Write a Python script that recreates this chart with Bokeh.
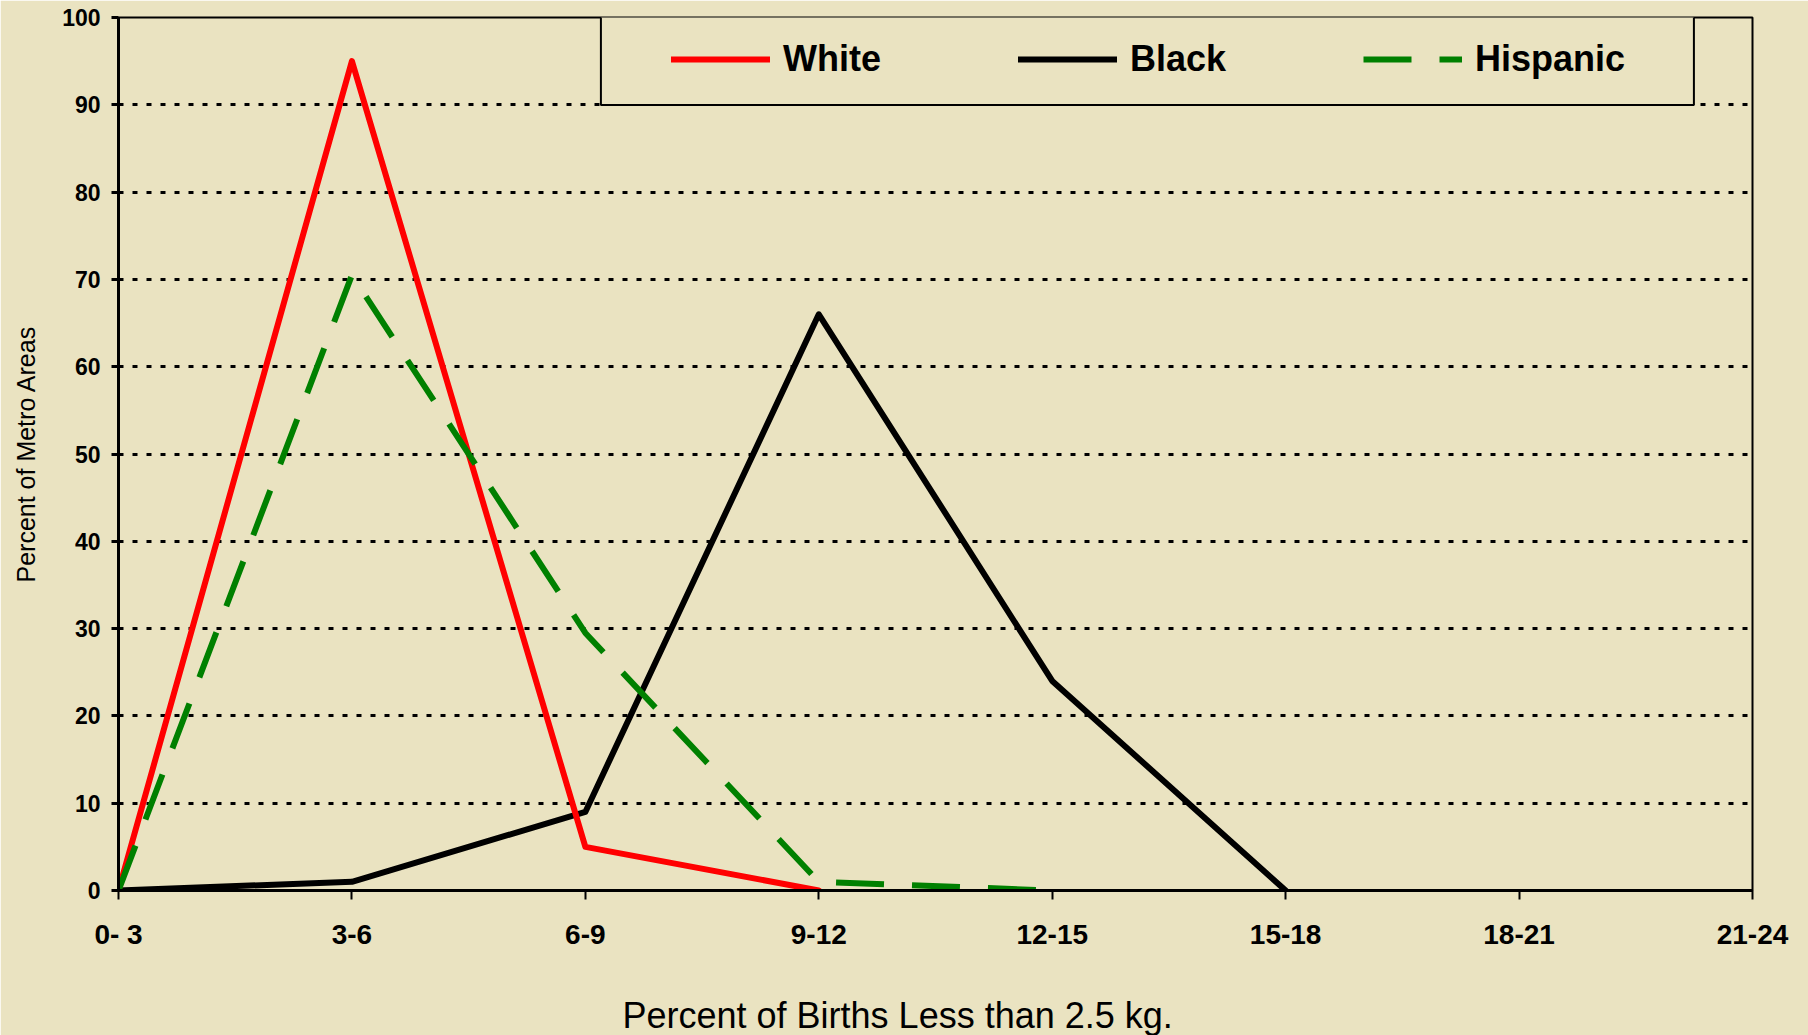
from bokeh.plotting import figure
from bokeh.models import Range1d, FixedTicker, BoxAnnotation, Legend, LegendItem, Title
from bokeh.embed import file_html
from bokeh.resources import INLINE

# ---- data ----
categories = ["0- 3", "3-6", "6-9", "9-12", "12-15", "15-18", "18-21", "21-24"]
white = [0, 95, 5, 0]
black = [0, 1, 9, 66, 24, 0]
hispanic = [0, 70.5, 29.5, 1, 0]
y_ticks = [0, 10, 20, 30, 40, 50, 60, 70, 80, 90, 100]
x_title = "Percent of Births Less than 2.5 kg."
y_title = "Percent of Metro Areas"

BG = "#EAE3C1"
FONT = "Liberation Sans"

p = figure(width=1808, height=1035, output_backend="svg", toolbar_location=None,
           x_range=Range1d(0, len(categories) - 1), y_range=Range1d(0, 100),
           min_border_left=118, min_border_right=56, min_border_top=17, min_border_bottom=144,
           background_fill_color=BG, border_fill_color=BG)

p.outline_line_color = "black"
p.outline_line_width = 2

# grid
p.xgrid.visible = False
p.ygrid.ticker = FixedTicker(ticks=[t for t in y_ticks if t > 0])
p.ygrid.grid_line_color = "black"
p.ygrid.grid_line_dash = "5 9"
p.ygrid.grid_line_width = 3

# axes
p.xaxis.ticker = FixedTicker(ticks=list(range(len(categories))))
p.xaxis.major_label_overrides = {i: c for i, c in enumerate(categories)}
p.yaxis.ticker = FixedTicker(ticks=y_ticks)
for ax in (p.xaxis, p.yaxis):
    ax.axis_line_color = "black"
    ax.axis_line_width = 3
    ax.major_tick_line_color = "black"
    ax.minor_tick_line_color = None
    ax.major_tick_in = 0
    ax.major_label_text_font = FONT
    ax.major_label_text_font_style = "bold"
    ax.major_label_text_color = "black"
p.xaxis.major_tick_out = 9
p.xaxis.major_tick_line_width = 2
p.xaxis.major_label_text_font_size = "28px"
p.xaxis.major_label_standoff = 19
# blank spacer label: reserves room between tick labels and the title below
p.xaxis.axis_label = " "
p.xaxis.axis_label_text_font_size = "1px"
p.xaxis.axis_label_standoff = 36
p.yaxis.major_tick_out = 7
p.yaxis.major_tick_line_width = 3
p.yaxis.major_label_text_font_size = "23px"
p.yaxis.major_label_standoff = 11
p.yaxis.axis_label = y_title
p.yaxis.axis_label_text_font = FONT
p.yaxis.axis_label_text_font_size = "25px"
p.yaxis.axis_label_text_font_style = "normal"
p.yaxis.axis_label_text_color = "black"
p.yaxis.axis_label_standoff = 19

# x axis title as a title below the axis
p.add_layout(Title(text=x_title, align="left", offset=504, standoff=0,
                   text_font=FONT, text_font_size="36px", text_font_style="normal",
                   text_color="black"), "below")

# lines
rb = p.line(list(range(len(black))), black, line_color="black", line_width=6,
            line_join="round", line_cap="round")
rw = p.line(list(range(len(white))), white, line_color="#FF0000", line_width=6,
            line_join="round", line_cap="round")
rh = p.line(list(range(len(hispanic))), hispanic, line_color="#008000", line_width=6,
            line_dash="48 28", line_join="round")

# legend box + legend
box = BoxAnnotation(left=2.0666, right=6.749, top=100.2, bottom=89.98,
                    fill_color=BG, fill_alpha=1, line_color="black", line_alpha=1,
                    line_width=2)
p.add_layout(box)
legend = Legend(items=[LegendItem(label="White", renderers=[rw]),
                       LegendItem(label="Black", renderers=[rb]),
                       LegendItem(label="Hispanic", renderers=[rh])],
                orientation="horizontal", location=(553, 810), padding=0, margin=0,
                spacing=137, glyph_width=99, glyph_height=40, label_standoff=13,
                label_text_font=FONT, label_text_font_size="36px",
                label_text_font_style="bold", label_text_color="black",
                border_line_alpha=0, background_fill_alpha=0)
p.add_layout(legend)

open("out.html", "w").write(file_html(p, INLINE))
